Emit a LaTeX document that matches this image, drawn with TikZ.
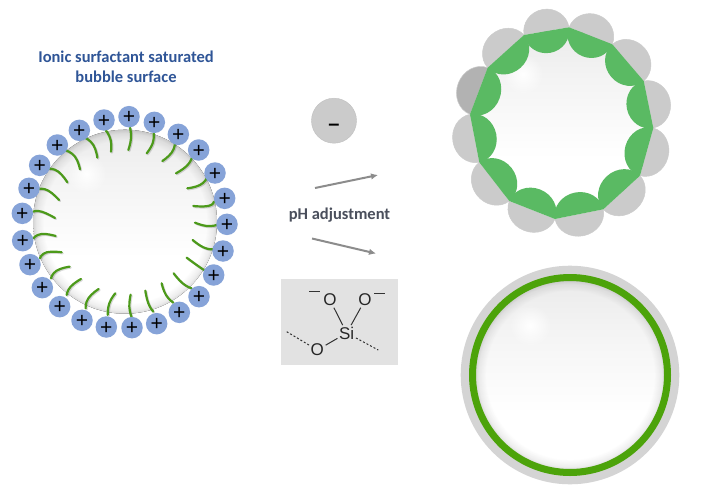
\documentclass[tikz,border=0pt]{standalone}
\usepackage{fontspec}
\setmainfont{Carlito}
\newfontfamily\chemfont{Liberation Sans}
\usetikzlibrary{fadings,arrows.meta,calc}
\definecolor{beadblue}{HTML}{86A3D8}
\definecolor{tailgreen}{HTML}{4C9A1A}
\definecolor{lensgreen}{HTML}{5ABA63}
\definecolor{lensgray}{HTML}{CBCBCB}
\definecolor{lensdark}{HTML}{B2B2B2}
\definecolor{ringgreen}{HTML}{4CA30A}
\definecolor{haloGray}{HTML}{D4D4D4}
\definecolor{titleblue}{HTML}{2F5597}
\definecolor{labelgray}{HTML}{4A4F5C}
\definecolor{arrowgray}{HTML}{8C8C8C}
\definecolor{boxgray}{HTML}{E2E2E2}
\pgfdeclareverticalshading{bubbleface}{100bp}{color(0bp)=(white);color(40bp)=(white);color(50bp)=(black!2);color(62bp)=(black!4.5);color(75bp)=(black!8);color(100bp)=(black!8)}
\pgfdeclareradialshading{rimshade}{\pgfpoint{0bp}{0bp}}{color(0bp)=(pgftransparent!100);color(22bp)=(pgftransparent!100);color(24bp)=(pgftransparent!85);color(25bp)=(pgftransparent!65);color(50bp)=(pgftransparent!65)}
\pgfdeclarefading{rimfade}{\pgfuseshading{rimshade}}
\pgfdeclareradialshading{glowshade}{\pgfpoint{0bp}{0bp}}{color(0bp)=(pgftransparent!0);color(10bp)=(pgftransparent!40);color(25bp)=(pgftransparent!100);color(50bp)=(pgftransparent!100)}
\pgfdeclarefading{glowfade}{\pgfuseshading{glowshade}}
\tikzset{
  bubblebase/.style={shading=bubbleface,draw=none},
  beadstyle/.style={circle,fill=beadblue,minimum size=21.5pt,inner sep=0pt,font=\chemfont\fontsize{21}{21}\selectfont,text=black},
  tailstyle/.style={draw=tailgreen,line width=2.2pt,line cap=round},
  tailshadow/.style={draw=black,opacity=.15,line width=2.2pt,line cap=round},
  arrowstyle/.style={draw=arrowgray,line width=2pt,-{Latex[length=7pt,width=6.5pt]}},
  chematom/.style={font=\chemfont\fontsize{17}{17}\selectfont,inner sep=1.5pt,text=black!85},
  bondstyle/.style={draw=black!80,line width=1pt},
  dashbond/.style={draw=black!80,line width=1pt,dash pattern=on 2pt off 2pt},
}
\newcommand{\drawbubble}[3]{%
  \fill[bubblebase] (#1,#2) circle[radius=#3];
  \fill[black,path fading=rimfade,opacity=.45] (#1,#2) circle[radius=#3];
  \fill[white,path fading=glowfade] ($(#1,#2)+(-.42*#3,-.52*#3)$) circle[radius=.22*#3];
}
% point on a lens: #2 along the chord, #3 along the inward normal
\newcommand{\lenspt}[3]{\coordinate (#1) at ({\mx+(#2)*\ux+(#3)*\nx},{\my+(#2)*\uy+(#3)*\ny});}
\newcommand{\lenspts}[2]{%
  \lenspt{#1A}{-\halfl}{0}
  \lenspt{#1B}{-\halfl}{(#2)*12.15}
  \lenspt{#1C}{-\hk}{(#2)*22}
  \lenspt{#1D}{0}{(#2)*22}
  \lenspt{#1E}{\hk}{(#2)*22}
  \lenspt{#1F}{\halfl}{(#2)*12.15}
  \lenspt{#1G}{\halfl}{0}
}
\begin{document}
\begin{tikzpicture}[x=1pt,y=-1pt]
\useasboundingbox (0,0) rectangle (701,503);
\fill[white] (0,0) rectangle (701,503);

% title
\node[font=\bfseries\fontsize{16.5}{20}\selectfont,text=titleblue,align=center] (title) at (126,67) {Ionic surfactant saturated\\bubble surface};

% left bubble
\drawbubble{125}{221.7}{92}

% tails
\begin{scope}[x=.3333pt,y=-.3333pt,shift={(0pt,-90pt)}]
\foreach \ax/\ay/\bx/\by/\cx/\cy in {
390/113/393/145/385/180, 461/130/458/160/440/190, 525/160/515/188/487/213,
575/205/560/228/528/250, 620/265/600/285/562/295, 642/335/625/348/580/348,
650/405/620/408/585/398, 638/478/610/472/578/450, 612/540/590/525/560/503,
575/595/548/580/521/550, 520/638/498/615/485/580, 460/665/445/640/436/602,
395/682/388/650/392/614, 323/675/328/640/346/610, 257/655/265/625/296/597,
200/615/212/590/243/567, 153/565/170/542/209/530, 120/505/140/487/185/487,
100/445/125/432/167/438, 100/365/125/365/165/384, 118/297/145/302/177/330,
147/236/175/245/202/277, 197/181/225/200/240/238, 255/143/280/165/292/203,
318/122/332/150/333/185} {
  \draw[tailshadow,shift={(1pt,-1pt)}] plot[smooth,tension=.9] coordinates {(\ax,\ay) (\bx,\by) (\cx,\cy)};
  \draw[tailstyle] plot[smooth,tension=.9] coordinates {(\ax,\ay) (\bx,\by) (\cx,\cy)};
}
\end{scope}

% beads
\foreach \zx/\zy [count=\i] in {
387/80,463/97,535/133,596/180,645/249,674/325,681/403,669/483,641/555,597/620,
538/667,470/701,396/713,319/711,246/691,179/650,127/593,90/524,68/452,67/370,
87/295,119/226,172/165,238/121,312/90} {
  \node[beadstyle] (bead\i) at ({\zx/3},{90+\zy/3}) {\raisebox{-7pt}[0pt][0pt]{+}};
}

% negative bead
\node[circle,fill=lensgray,draw=black!25,line width=.4pt,minimum size=45pt,inner sep=0pt,font=\chemfont\bfseries\fontsize{20}{20}\selectfont] (neg) at (334,120.7) {\raisebox{-9.6pt}[0pt][0pt]{–}};

% arrows and label
\coordinate (a1s) at (315,188);
\coordinate (a1e) at (378,175);
\coordinate (a2s) at (312,238.5);
\coordinate (a2e) at (376,253.5);
\draw[arrowstyle] (a1s) -- (a1e);
\draw[arrowstyle] (a2s) -- (a2e);
\node[font=\bfseries\fontsize{16.5}{18}\selectfont,text=labelgray] (ph) at (339.5,215) {pH adjustment};

% silicate box
\node[fill=boxgray,minimum width=116.5pt,minimum height=86.5pt,inner sep=0pt,anchor=north west] (box) at (281,278.5) {};
\node[chematom] (si) at (346.7,333) {Si};
\node[chematom] (o1) at (330,300) {O};
\node[chematom] (o2) at (365,300) {O};
\node[chematom] (o3) at (317.3,350) {O};
\coordinate (m1a) at (309.3,291.3); \coordinate (m1b) at (320,291.3);
\coordinate (m2a) at (374,293); \coordinate (m2b) at (385,293);
\coordinate (d1) at (286.7,331.7);
\coordinate (d2) at (378.3,350);
\draw[bondstyle] (si) -- (o1);
\draw[bondstyle] (si) -- (o2);
\draw[bondstyle] (si) -- (o3);
\draw[bondstyle] (m1a) -- (m1b);
\draw[bondstyle] (m2a) -- (m2b);
\draw[dashbond] (d1) -- (o3);
\draw[dashbond] (si) -- (d2);

% top right bubble
\drawbubble{561.7}{122}{92}
\def\vlist{569/27.3/612.3/44.3,612.3/44.3/643.7/81,643.7/81/653.3/128,653.3/128/640/175.7,640/175.7/603.3/209.3,603.3/209.3/555/219,555/219/509.3/201,509.3/201/479.3/162.3,479.3/162.3/470/114.3,470/114.3/487.7/67.7,487.7/67.7/524/35,524/35/569/27.3}
\foreach \xa/\ya/\xb/\yb [count=\k] in \vlist {
  \pgfmathsetmacro{\halfl}{veclen(\xb-\xa,\yb-\ya)/2}
  \pgfmathsetmacro{\hk}{\halfl*.5523}
  \pgfmathsetmacro{\mx}{(\xa+\xb)/2}
  \pgfmathsetmacro{\my}{(\ya+\yb)/2}
  \pgfmathsetmacro{\ux}{(\xb-\xa)/(2*\halfl)}
  \pgfmathsetmacro{\uy}{(\yb-\ya)/(2*\halfl)}
  \pgfmathsetmacro{\nx}{-\uy}
  \pgfmathsetmacro{\ny}{\ux}
  \ifnum\k=10 \def\gcol{lensdark}\else\def\gcol{lensgray}\fi
  \lenspts{o}{-1}
  \lenspts{i}{1}
  \fill[\gcol] (oA) .. controls (oB) and (oC) .. (oD) .. controls (oE) and (oF) .. (oG) -- cycle;
  \draw[black!20,line width=.5pt] (oA) .. controls (oB) and (oC) .. (oD) .. controls (oE) and (oF) .. (oG);
  \fill[lensgreen] (iA) .. controls (iB) and (iC) .. (iD) .. controls (iE) and (iF) .. (iG) -- cycle;
}

% bottom right bubble
\fill[haloGray] (570,375) circle[radius=109.3];
\fill[white] (570,375) circle[radius=97];
\drawbubble{570}{375}{95}
\draw[ringgreen,line width=7pt] (570,375) circle[radius=97.5];
\end{tikzpicture}
\end{document}
